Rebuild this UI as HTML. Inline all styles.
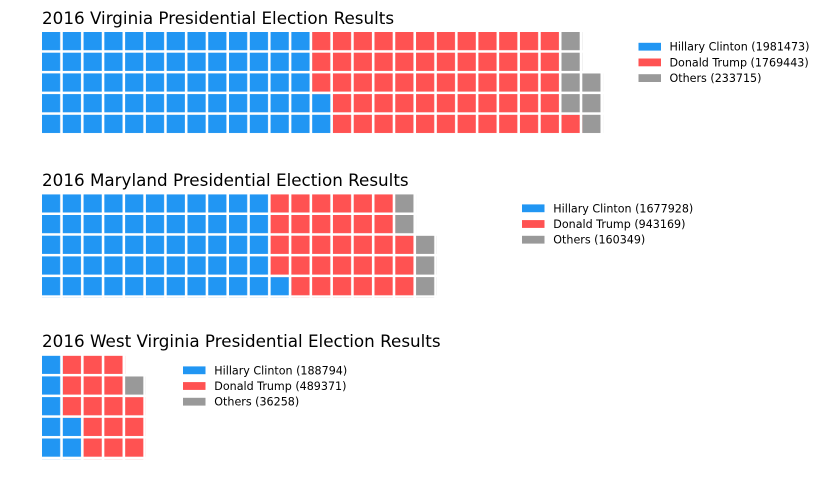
<!DOCTYPE html>
<html>
<head>
<meta charset="utf-8">
<style>
  html, body { margin: 0; padding: 0; background: #ffffff; }
  svg { display: block; }
  text { font-family: "DejaVu Sans", "Liberation Sans", sans-serif; fill: #000; }
  .t { font-size: 16.76px; }
  .l { font-size: 11.12px; }
</style>
</head>
<body>
<svg width="824" height="490" viewBox="0 0 824 490" xmlns="http://www.w3.org/2000/svg">
  <defs>
    <pattern id="pb" patternUnits="userSpaceOnUse" x="0" y="0" width="20.78" height="20.7">
      <rect x="0" y="0" width="18.2" height="18.2" fill="#2196f3"/>
    </pattern>
    <pattern id="pr" patternUnits="userSpaceOnUse" x="0" y="0" width="20.78" height="20.7">
      <rect x="0" y="0" width="18.2" height="18.2" fill="#ff5252"/>
    </pattern>
    <pattern id="pg" patternUnits="userSpaceOnUse" x="0" y="0" width="20.78" height="20.7">
      <rect x="0" y="0" width="18.2" height="18.2" fill="#999999"/>
    </pattern>
  </defs>
  <rect width="824" height="490" fill="#ffffff"/>

  <!-- Virginia -->
  <text class="t" x="42" y="24">2016 Virginia Presidential Election Results</text>
  <g transform="translate(42,32)">
    <rect x="0" y="0" width="270.14" height="103.5" fill="url(#pb)"/>
    <rect x="270.14" y="62.1" width="20.78" height="41.4" fill="url(#pb)"/>
    <rect x="270.14" y="0" width="20.78" height="62.1" fill="url(#pr)"/>
    <rect x="290.92" y="0" width="228.58" height="103.5" fill="url(#pr)"/>
    <rect x="519.5" y="82.8" width="20.78" height="20.7" fill="url(#pr)"/>
    <rect x="519.5" y="0" width="20.78" height="82.8" fill="url(#pg)"/>
    <rect x="540.28" y="41.4" width="20.78" height="62.1" fill="url(#pg)"/>
  </g>
  <rect x="638.5" y="42.8" width="22.5" height="7.8" fill="#2196f3"/>
  <rect x="638.5" y="58.5" width="22.5" height="7.8" fill="#ff5252"/>
  <rect x="638.5" y="74.2" width="22.5" height="7.8" fill="#999999"/>
  <text class="l" x="669.5" y="50.7">Hillary Clinton (1981473)</text>
  <text class="l" x="669.5" y="66.4">Donald Trump (1769443)</text>
  <text class="l" x="669.5" y="82.1">Others (233715)</text>

  <!-- Maryland -->
  <text class="t" x="42" y="186">2016 Maryland Presidential Election Results</text>
  <g transform="translate(42,194.3)">
    <rect x="0" y="0" width="228.58" height="103.5" fill="url(#pb)"/>
    <rect x="228.58" y="82.8" width="20.78" height="20.7" fill="url(#pb)"/>
    <rect x="228.58" y="0" width="20.78" height="82.8" fill="url(#pr)"/>
    <rect x="249.36" y="0" width="103.9" height="103.5" fill="url(#pr)"/>
    <rect x="353.26" y="41.4" width="20.78" height="62.1" fill="url(#pr)"/>
    <rect x="353.26" y="0" width="20.78" height="41.4" fill="url(#pg)"/>
    <rect x="374.04" y="41.4" width="20.78" height="62.1" fill="url(#pg)"/>
  </g>
  <rect x="522" y="204.4" width="22.5" height="7.8" fill="#2196f3"/>
  <rect x="522" y="220.1" width="22.5" height="7.8" fill="#ff5252"/>
  <rect x="522" y="235.8" width="22.5" height="7.8" fill="#999999"/>
  <text class="l" x="553.3" y="212.3">Hillary Clinton (1677928)</text>
  <text class="l" x="553.3" y="228">Donald Trump (943169)</text>
  <text class="l" x="553.3" y="243.7">Others (160349)</text>

  <!-- West Virginia -->
  <text class="t" x="42" y="347">2016 West Virginia Presidential Election Results</text>
  <g transform="translate(42,355.7)">
    <rect x="0" y="0" width="20.78" height="103.5" fill="url(#pb)"/>
    <rect x="20.78" y="62.1" width="20.78" height="41.4" fill="url(#pb)"/>
    <rect x="20.78" y="0" width="20.78" height="62.1" fill="url(#pr)"/>
    <rect x="41.56" y="0" width="41.56" height="103.5" fill="url(#pr)"/>
    <rect x="83.12" y="41.4" width="20.78" height="62.1" fill="url(#pr)"/>
    <rect x="83.12" y="20.7" width="20.78" height="20.7" fill="url(#pg)"/>
  </g>
  <rect x="183" y="366.4" width="22.5" height="7.8" fill="#2196f3"/>
  <rect x="183" y="382.1" width="22.5" height="7.8" fill="#ff5252"/>
  <rect x="183" y="397.8" width="22.5" height="7.8" fill="#999999"/>
  <text class="l" x="214.3" y="374.3">Hillary Clinton (188794)</text>
  <text class="l" x="214.3" y="390">Donald Trump (489371)</text>
  <text class="l" x="214.3" y="405.7">Others (36258)</text>
</svg>
</body>
</html>
